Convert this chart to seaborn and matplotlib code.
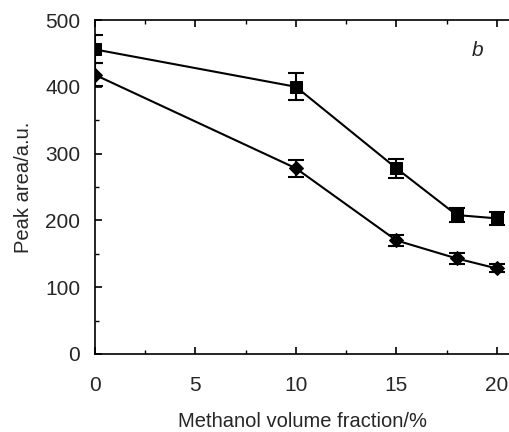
import matplotlib
matplotlib.use("Agg")
import matplotlib.pyplot as plt
import seaborn as sns
import pandas as pd
from matplotlib.ticker import MultipleLocator

methanol = [0, 10, 15, 18, 20]
series_a = [456, 400, 278, 208, 203]
err_a = [21, 20, 14, 10, 10]
series_b = [418, 278, 170, 143, 128]
err_b = [17, 13, 8, 8, 6]

sns.set_theme(style="white")
plt.rcParams['font.family'] = ['Liberation Sans', 'DejaVu Sans']

df = pd.DataFrame({
    "x": methanol * 2,
    "y": series_a + series_b,
    "s": ["a"] * len(methanol) + ["b"] * len(methanol),
})

fig, ax = plt.subplots(figsize=(5.1, 4.32), dpi=100)
fig.subplots_adjust(left=0.186, right=1.0, top=0.9537, bottom=0.1806)

sns.lineplot(data=df, x="x", y="y", hue="s", palette=["black", "black"],
             style="s", markers={"a": "s", "b": "D"}, dashes=False,
             linewidth=1.5, legend=False, ax=ax,
             markeredgecolor="black", markersize=8)
# shrink diamond slightly
for line in ax.lines:
    if line.get_marker() == "D":
        line.set_markersize(7)
ax.errorbar(methanol, series_a, yerr=err_a, fmt="none", ecolor="black",
            elinewidth=1.5, capsize=5.5, capthick=1.5)
ax.errorbar(methanol, series_b, yerr=err_b, fmt="none", ecolor="black",
            elinewidth=1.5, capsize=5.5, capthick=1.5)

ax.set_xlim(0, 20.65)
ax.set_ylim(0, 500)
ax.xaxis.set_major_locator(MultipleLocator(5))
ax.xaxis.set_minor_locator(MultipleLocator(2.5))
ax.yaxis.set_major_locator(MultipleLocator(100))
ax.yaxis.set_minor_locator(MultipleLocator(50))
ax.tick_params(which="major", direction="in", length=5, width=1.2, color="black",
               labelsize=15, top=True, bottom=True, left=True)
ax.tick_params(which="minor", direction="in", length=3, width=1.0, color="black",
               top=True, bottom=True, left=True)
ax.tick_params(axis="x", pad=16)
ax.tick_params(axis="y", pad=10.5)
for side in ["left", "bottom", "top"]:
    ax.spines[side].set_color("black")
    ax.spines[side].set_linewidth(1.2)
ax.spines["right"].set_visible(False)

ax.set_xlabel("Methanol volume fraction/%", fontsize=14.5, labelpad=12)
ax.set_ylabel("Peak area/a.u.", fontsize=14.5, labelpad=8.5)
ax.text(19.05, 455, "b", fontstyle="italic", fontsize=15, ha="center", va="center")

fig.savefig("out.png", dpi=100)
